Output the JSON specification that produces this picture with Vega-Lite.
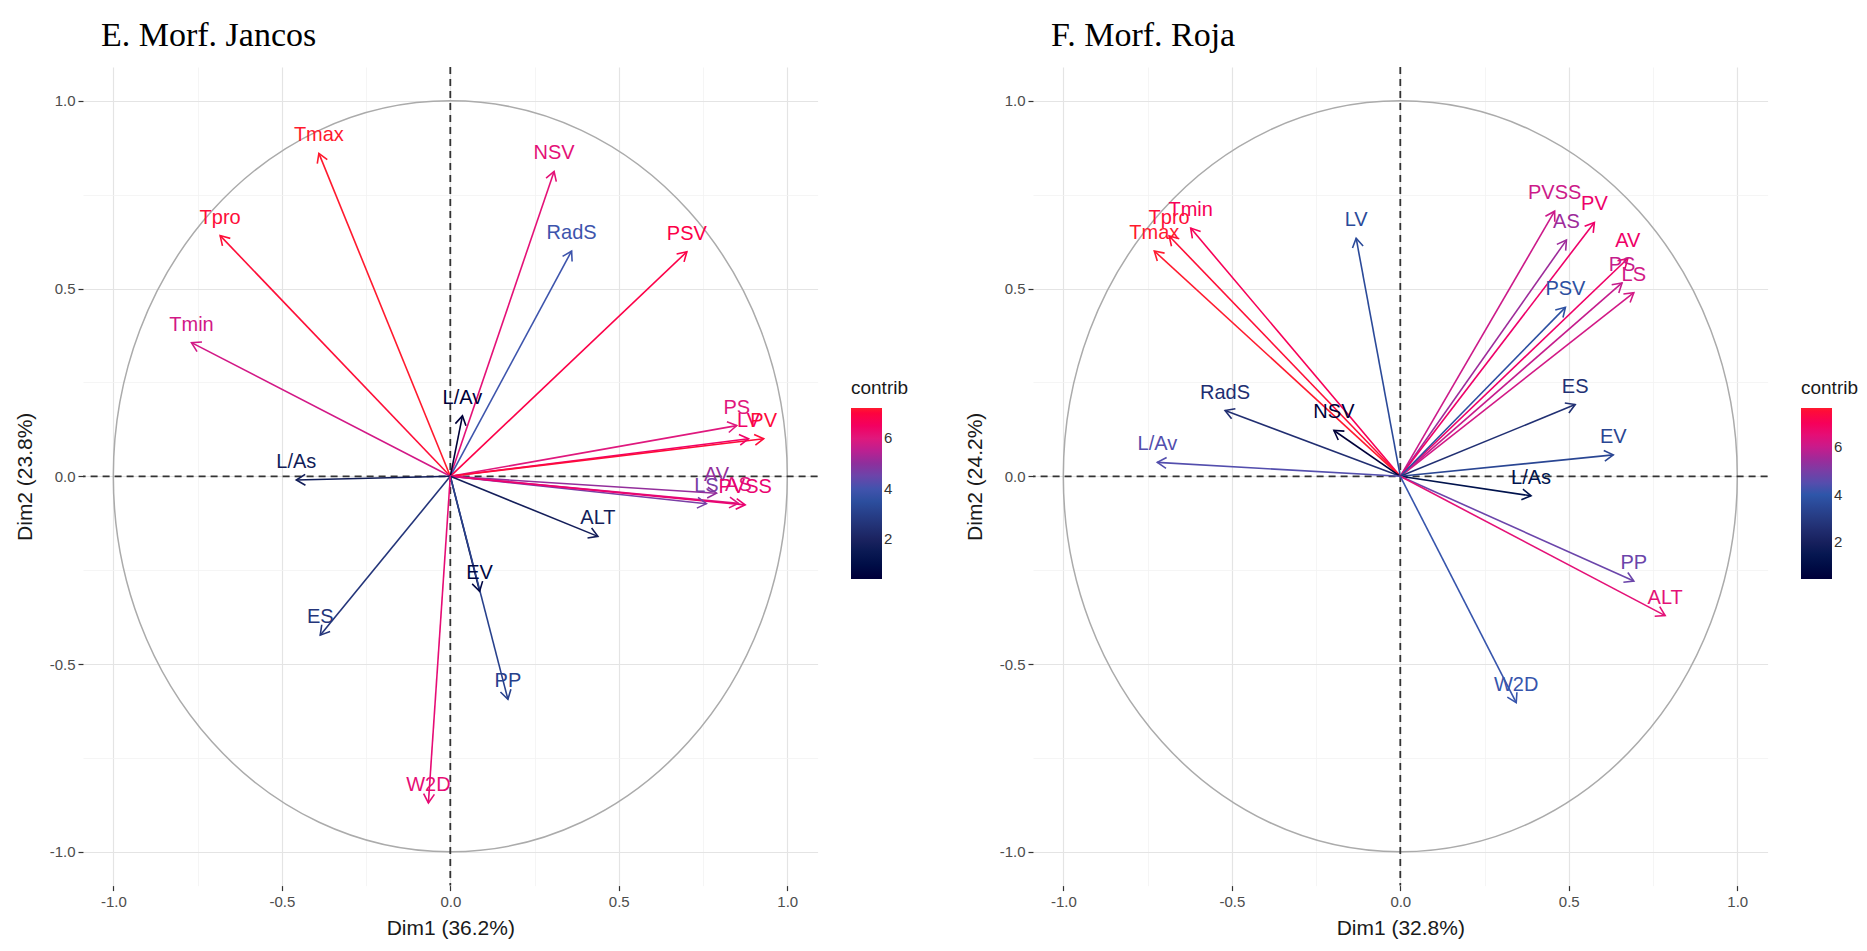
{
  "$schema": "https://vega.github.io/schema/vega-lite/v6.json",
  "background": "white",
  "padding": {"left": 14, "top": 19, "right": 0, "bottom": 0},
  "spacing": 55,
  "resolve": {"scale": {"color": "independent"}, "legend": {"color": "independent"}},
  "config": {
    "font": "Liberation Sans",
    "view": {"stroke": null},
    "axis": {
      "domain": false,
      "grid": true,
      "gridColor": {"condition": {"test": "abs(datum.value*4) % 2 == 1", "value": "#f2f2f2"}, "value": "#e4e4e4"},
      "gridWidth": {"condition": {"test": "abs(datum.value*4) % 2 == 1", "value": 0.8}, "value": 1.2},
      "tickColor": {"condition": {"test": "abs(datum.value*4) % 2 == 1", "value": "rgba(0,0,0,0)"}, "value": "#333333"},
      "tickSize": 5,
      "tickWidth": 1.2,
      "labelFontSize": 15,
      "labelColor": "#4d4d4d",
      "labelOverlap": false,
      "labelFlush": false,
      "titleFontSize": 21,
      "titleFontWeight": "normal",
      "titleColor": "#1a1a1a"
    },
    "axisX": {"labelPadding": 4, "titlePadding": 8},
    "axisY": {"labelPadding": 3, "titlePadding": 14},
    "legend": {
      "orient": "none",
      "direction": "vertical",
      "gradientLength": 171,
      "gradientThickness": 31,
      "gradientStrokeWidth": 0,
      "titleFontSize": 19,
      "titleFontWeight": "normal",
      "titleColor": "#1a1a1a",
      "titlePadding": 10,
      "labelFontSize": 15,
      "labelColor": "#333333",
      "labelOffset": 6
    },
    "title": {
      "anchor": "start",
      "frame": "group",
      "font": "Liberation Serif",
      "fontSize": 34,
      "fontWeight": "normal",
      "color": "#000000",
      "baseline": "alphabetic",
      "offset": 13,
      "dx": 18
    }
  },
  "datasets": {
    "jancos": [
      {"var": "Tmax", "x": -0.39, "y": 0.86, "contrib": 7.2},
      {"var": "Tpro", "x": -0.683, "y": 0.641, "contrib": 7.08},
      {"var": "Tmin", "x": -0.768, "y": 0.356, "contrib": 5.79},
      {"var": "NSV", "x": 0.308, "y": 0.812, "contrib": 6.09},
      {"var": "RadS", "x": 0.36, "y": 0.6, "contrib": 3.95},
      {"var": "PSV", "x": 0.702, "y": 0.598, "contrib": 6.87},
      {"var": "L/Av", "x": 0.036, "y": 0.161, "contrib": 0.42},
      {"var": "L/As", "x": -0.457, "y": -0.01, "contrib": 1.69},
      {"var": "PS", "x": 0.85, "y": 0.135, "contrib": 5.98},
      {"var": "LV", "x": 0.885, "y": 0.1, "contrib": 6.4},
      {"var": "PV", "x": 0.93, "y": 0.1, "contrib": 7.06},
      {"var": "AV", "x": 0.79, "y": -0.045, "contrib": 5.05},
      {"var": "LS", "x": 0.76, "y": -0.073, "contrib": 4.7},
      {"var": "AS", "x": 0.855, "y": -0.072, "contrib": 5.94},
      {"var": "PVSS", "x": 0.875, "y": -0.076, "contrib": 6.23},
      {"var": "ALT", "x": 0.438, "y": -0.16, "contrib": 1.76},
      {"var": "EV", "x": 0.087, "y": -0.306, "contrib": 0.82},
      {"var": "ES", "x": -0.386, "y": -0.423, "contrib": 2.65},
      {"var": "PP", "x": 0.171, "y": -0.594, "contrib": 3.08},
      {"var": "W2D", "x": -0.065, "y": -0.87, "contrib": 6.14}
    ],
    "roja": [
      {"var": "Tmin", "x": -0.622, "y": 0.661, "contrib": 7.05},
      {"var": "Tpro", "x": -0.686, "y": 0.64, "contrib": 7.53},
      {"var": "Tmax", "x": -0.73, "y": 0.6, "contrib": 7.64},
      {"var": "LV", "x": -0.131, "y": 0.634, "contrib": 3.59},
      {"var": "RadS", "x": -0.52, "y": 0.175, "contrib": 2.58},
      {"var": "NSV", "x": -0.197, "y": 0.122, "contrib": 0.46},
      {"var": "L/Av", "x": -0.721, "y": 0.037, "contrib": 4.46},
      {"var": "PVSS", "x": 0.458, "y": 0.706, "contrib": 6.06},
      {"var": "AS", "x": 0.493, "y": 0.629, "contrib": 5.47},
      {"var": "PV", "x": 0.576, "y": 0.676, "contrib": 6.75},
      {"var": "AV", "x": 0.675, "y": 0.58, "contrib": 6.78},
      {"var": "PS", "x": 0.658, "y": 0.515, "contrib": 5.97},
      {"var": "LS", "x": 0.693, "y": 0.489, "contrib": 6.15},
      {"var": "PSV", "x": 0.49, "y": 0.45, "contrib": 3.79},
      {"var": "ES", "x": 0.519, "y": 0.191, "contrib": 2.62},
      {"var": "EV", "x": 0.632, "y": 0.057, "contrib": 3.45},
      {"var": "L/As", "x": 0.388, "y": -0.052, "contrib": 1.31},
      {"var": "PP", "x": 0.693, "y": -0.279, "contrib": 4.78},
      {"var": "ALT", "x": 0.786, "y": -0.371, "contrib": 6.47},
      {"var": "W2D", "x": 0.344, "y": -0.603, "contrib": 4.13}
    ]
  },
  "hconcat": [
    {
      "width": 734.6,
      "height": 818.6,
      "title": {"text": "E. Morf. Jancos"},
      "data": {"name": "jancos"},
      "resolve": {"legend": {"color": "independent"}},
      "layer": [
        {
          "data": {"values": [{"guide": "correlation circle"}]},
          "mark": {"type": "point", "shape": "M -1 0 A 1 1.1142 0 1 0 1 0 A 1 1.1142 0 1 0 -1 0 Z", "size": 454276, "filled": false, "stroke": "#ababab", "strokeWidth": 1.5, "opacity": 1},
          "encoding": {
            "x": {"datum": 0, "type": "quantitative", "scale": {"domain": [-1.09, 1.09], "nice": false, "zero": false}, "title": "Dim1 (36.2%)"},
            "y": {"datum": 0, "type": "quantitative", "scale": {"domain": [-1.09, 1.09], "nice": false, "zero": false}, "title": "Dim2 (23.8%)"}
          }
        },
        {
          "data": {"values": [{"guide": "x origin"}]},
          "mark": {"type": "rule", "strokeDash": [7, 5], "strokeWidth": 1.8, "color": "#333333"},
          "encoding": {
            "x": {"datum": 0, "type": "quantitative", "scale": {"domain": [-1.09, 1.09], "nice": false, "zero": false}, "title": "Dim1 (36.2%)"}
          }
        },
        {
          "data": {"values": [{"guide": "y origin"}]},
          "mark": {"type": "rule", "strokeDash": [7, 5], "strokeWidth": 1.8, "color": "#333333"},
          "encoding": {
            "y": {"datum": 0, "type": "quantitative", "scale": {"domain": [-1.09, 1.09], "nice": false, "zero": false}, "title": "Dim2 (23.8%)"}
          }
        },
        {
          "mark": {"type": "rule", "strokeWidth": 1.6},
          "encoding": {
            "x": {"field": "x", "type": "quantitative", "scale": {"domain": [-1.09, 1.09], "nice": false, "zero": false}, "title": "Dim1 (36.2%)",
                  "axis": {"values": [-1, -0.75, -0.5, -0.25, 0, 0.25, 0.5, 0.75, 1], "labelExpr": "abs(datum.value*4) % 2 == 1 ? '' : replace(format(datum.value, '.1f'), '\u2212', '-')"}},
            "y": {"field": "y", "type": "quantitative", "scale": {"domain": [-1.09, 1.09], "nice": false, "zero": false}, "title": "Dim2 (23.8%)",
                  "axis": {"values": [-1, -0.75, -0.5, -0.25, 0, 0.25, 0.5, 0.75, 1], "labelExpr": "abs(datum.value*4) % 2 == 1 ? '' : replace(format(datum.value, '.1f'), '\u2212', '-')"}},
            "x2": {"datum": 0},
            "y2": {"datum": 0},
            "color": {"field": "contrib", "type": "quantitative",
                      "scale": {"domain": [0.42, 2, 3.8, 5, 6, 7.2], "range": ["#000000", "#1b2360", "#2e57ab", "#8e2f9c", "#e0187c", "#ff1a2e"]},
                      "legend": {"type": "gradient", "title": "contrib", "values": [2, 4, 6], "legendX": 768, "legendY": 312}}
          }
        },
        {
          "transform": [{"calculate": "atan2(-datum.y * 375.5, datum.x * 337) * 180 / PI", "as": "heading"}],
          "mark": {"type": "point", "shape": "M -1 -0.6 L 0 0 L -1 0.6", "size": 324, "filled": false, "strokeWidth": 1.6, "opacity": 1},
          "encoding": {
            "x": {"field": "x", "type": "quantitative", "scale": {"domain": [-1.09, 1.09], "nice": false, "zero": false}, "title": "Dim1 (36.2%)"},
            "y": {"field": "y", "type": "quantitative", "scale": {"domain": [-1.09, 1.09], "nice": false, "zero": false}, "title": "Dim2 (23.8%)"},
            "angle": {"field": "heading", "type": "quantitative", "scale": null},
            "color": {"field": "contrib", "type": "quantitative",
                      "scale": {"domain": [0.42, 2, 3.8, 5, 6, 7.2], "range": ["#000000", "#1b2360", "#2e57ab", "#8e2f9c", "#e0187c", "#ff1a2e"]},
                      "legend": null}
          }
        },
        {
          "mark": {"type": "text", "align": "center", "baseline": "alphabetic", "dy": -12, "fontSize": 20},
          "encoding": {
            "x": {"field": "x", "type": "quantitative", "scale": {"domain": [-1.09, 1.09], "nice": false, "zero": false}, "title": "Dim1 (36.2%)"},
            "y": {"field": "y", "type": "quantitative", "scale": {"domain": [-1.09, 1.09], "nice": false, "zero": false}, "title": "Dim2 (23.8%)"},
            "text": {"field": "var"},
            "color": {"field": "contrib", "type": "quantitative",
                      "scale": {"domain": [0.42, 2, 3.8, 5, 6, 7.2], "range": ["#000000", "#1b2360", "#2e57ab", "#8e2f9c", "#e0187c", "#ff1a2e"]},
                      "legend": null}
          }
        }
      ]
    },
    {
      "width": 734.6,
      "height": 818.6,
      "title": {"text": "F. Morf. Roja"},
      "data": {"name": "roja"},
      "resolve": {"legend": {"color": "independent"}},
      "layer": [
        {
          "data": {"values": [{"guide": "correlation circle"}]},
          "mark": {"type": "point", "shape": "M -1 0 A 1 1.1142 0 1 0 1 0 A 1 1.1142 0 1 0 -1 0 Z", "size": 454276, "filled": false, "stroke": "#ababab", "strokeWidth": 1.5, "opacity": 1},
          "encoding": {
            "x": {"datum": 0, "type": "quantitative", "scale": {"domain": [-1.09, 1.09], "nice": false, "zero": false}, "title": "Dim1 (32.8%)"},
            "y": {"datum": 0, "type": "quantitative", "scale": {"domain": [-1.09, 1.09], "nice": false, "zero": false}, "title": "Dim2 (24.2%)"}
          }
        },
        {
          "data": {"values": [{"guide": "x origin"}]},
          "mark": {"type": "rule", "strokeDash": [7, 5], "strokeWidth": 1.8, "color": "#333333"},
          "encoding": {
            "x": {"datum": 0, "type": "quantitative", "scale": {"domain": [-1.09, 1.09], "nice": false, "zero": false}, "title": "Dim1 (32.8%)"}
          }
        },
        {
          "data": {"values": [{"guide": "y origin"}]},
          "mark": {"type": "rule", "strokeDash": [7, 5], "strokeWidth": 1.8, "color": "#333333"},
          "encoding": {
            "y": {"datum": 0, "type": "quantitative", "scale": {"domain": [-1.09, 1.09], "nice": false, "zero": false}, "title": "Dim2 (24.2%)"}
          }
        },
        {
          "mark": {"type": "rule", "strokeWidth": 1.6},
          "encoding": {
            "x": {"field": "x", "type": "quantitative", "scale": {"domain": [-1.09, 1.09], "nice": false, "zero": false}, "title": "Dim1 (32.8%)",
                  "axis": {"values": [-1, -0.75, -0.5, -0.25, 0, 0.25, 0.5, 0.75, 1], "labelExpr": "abs(datum.value*4) % 2 == 1 ? '' : replace(format(datum.value, '.1f'), '\u2212', '-')"}},
            "y": {"field": "y", "type": "quantitative", "scale": {"domain": [-1.09, 1.09], "nice": false, "zero": false}, "title": "Dim2 (24.2%)",
                  "axis": {"values": [-1, -0.75, -0.5, -0.25, 0, 0.25, 0.5, 0.75, 1], "labelExpr": "abs(datum.value*4) % 2 == 1 ? '' : replace(format(datum.value, '.1f'), '\u2212', '-')"}},
            "x2": {"datum": 0},
            "y2": {"datum": 0},
            "color": {"field": "contrib", "type": "quantitative",
                      "scale": {"domain": [0.46, 2.13, 4.04, 5.31, 6.37, 7.64], "range": ["#000000", "#1b2360", "#2e57ab", "#8e2f9c", "#e0187c", "#ff1a2e"]},
                      "legend": {"type": "gradient", "title": "contrib", "values": [2, 4, 6], "legendX": 768, "legendY": 312}}
          }
        },
        {
          "transform": [{"calculate": "atan2(-datum.y * 375.5, datum.x * 337) * 180 / PI", "as": "heading"}],
          "mark": {"type": "point", "shape": "M -1 -0.6 L 0 0 L -1 0.6", "size": 324, "filled": false, "strokeWidth": 1.6, "opacity": 1},
          "encoding": {
            "x": {"field": "x", "type": "quantitative", "scale": {"domain": [-1.09, 1.09], "nice": false, "zero": false}, "title": "Dim1 (32.8%)"},
            "y": {"field": "y", "type": "quantitative", "scale": {"domain": [-1.09, 1.09], "nice": false, "zero": false}, "title": "Dim2 (24.2%)"},
            "angle": {"field": "heading", "type": "quantitative", "scale": null},
            "color": {"field": "contrib", "type": "quantitative",
                      "scale": {"domain": [0.46, 2.13, 4.04, 5.31, 6.37, 7.64], "range": ["#000000", "#1b2360", "#2e57ab", "#8e2f9c", "#e0187c", "#ff1a2e"]},
                      "legend": null}
          }
        },
        {
          "mark": {"type": "text", "align": "center", "baseline": "alphabetic", "dy": -12, "fontSize": 20},
          "encoding": {
            "x": {"field": "x", "type": "quantitative", "scale": {"domain": [-1.09, 1.09], "nice": false, "zero": false}, "title": "Dim1 (32.8%)"},
            "y": {"field": "y", "type": "quantitative", "scale": {"domain": [-1.09, 1.09], "nice": false, "zero": false}, "title": "Dim2 (24.2%)"},
            "text": {"field": "var"},
            "color": {"field": "contrib", "type": "quantitative",
                      "scale": {"domain": [0.46, 2.13, 4.04, 5.31, 6.37, 7.64], "range": ["#000000", "#1b2360", "#2e57ab", "#8e2f9c", "#e0187c", "#ff1a2e"]},
                      "legend": null}
          }
        }
      ]
    }
  ]
}
